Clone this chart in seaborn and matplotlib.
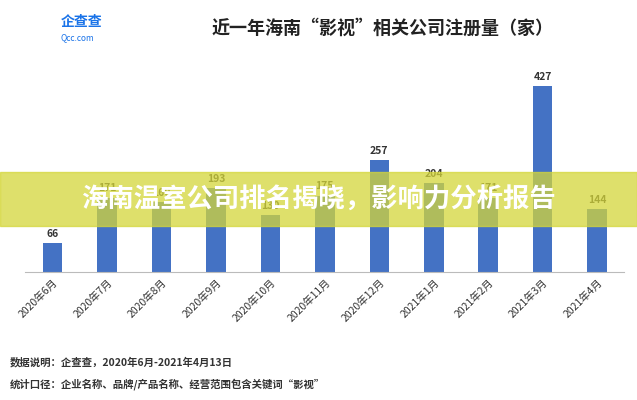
import matplotlib
matplotlib.use("Agg")
import matplotlib.pyplot as plt
import seaborn as sns
import pandas as pd

months = ["2020年6月","2020年7月","2020年8月","2020年9月","2020年10月","2020年11月",
          "2020年12月","2021年1月","2021年2月","2021年3月","2021年4月"]
counts = [66, 171, 160, 193, 130, 175, 257, 204, 171, 427, 144]

plt.rcParams["font.family"] = "Noto Sans CJK SC"
fig = plt.figure(figsize=(6.37, 4.0), dpi=100)
ax = fig.add_axes([0.04, 0.32, 0.94, 0.53])
df = pd.DataFrame({"m": months, "v": counts})
sns.barplot(data=df, x="m", y="v", color="#4472C4", width=0.36, ax=ax, saturation=1)
for i, v in enumerate(counts):
    ax.text(i, v + 10, str(v), ha="center", va="bottom", fontsize=7.5, fontweight="bold", color="#333333")
ax.set_ylim(0, 487)
ax.set_xlabel(""); ax.set_ylabel("")
ax.set_yticks([])
for s in ["top", "right", "left"]:
    ax.spines[s].set_visible(False)
ax.spines["bottom"].set_color("#bbbbbb")
ax.tick_params(axis="x", length=0, labelsize=7.5, colors="#333333")
plt.setp(ax.get_xticklabels(), rotation=45, ha="right", rotation_mode="anchor")

fig.text(0.6, 0.93, "近一年海南“影视”相关公司注册量（家）", ha="center", va="center",
         fontsize=13, fontweight="bold", color="#222222")
fig.text(0.095, 0.945, "企查查", fontsize=10, color="#1a73e8", fontweight="bold", va="center")
fig.text(0.095, 0.905, "Qcc.com", fontsize=6, color="#1a73e8", va="center")
fig.text(0.015, 0.085, "数据说明：企查查，2020年6月-2021年4月13日", fontsize=7.5, color="#333333", fontweight="bold")
fig.text(0.015, 0.03, "统计口径：企业名称、品牌/产品名称、经营范围包含关键词“影视”", fontsize=7.5, color="#333333", fontweight="bold")

fig.patches.append(plt.Rectangle((0, 0.435), 1, 0.135, transform=fig.transFigure,
                                 color="#d4d63a", alpha=0.75, zorder=10))
fig.text(0.5, 0.5, "海南温室公司排名揭晓，影响力分析报告", ha="center", va="center",
         fontsize=19, fontweight="bold", color="white", zorder=11)
fig.savefig("out.png", dpi=100, facecolor="white")
